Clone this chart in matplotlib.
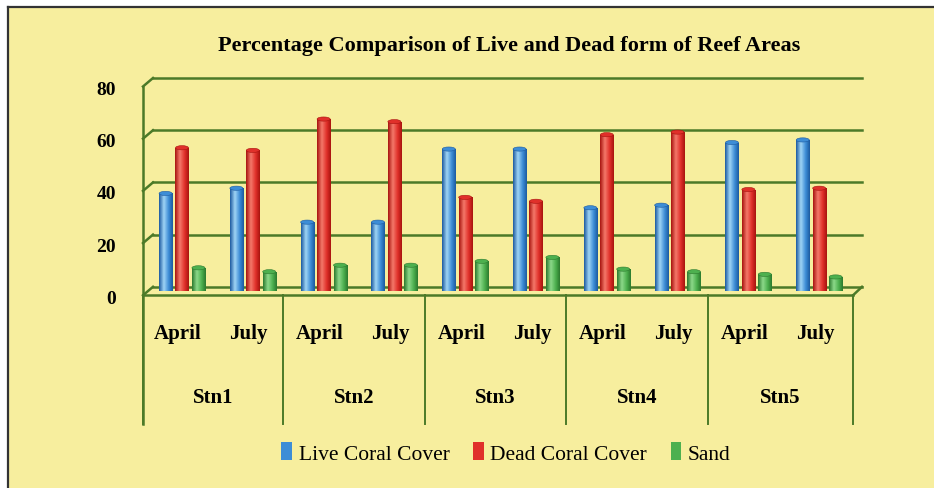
import numpy as np
import matplotlib
matplotlib.use("Agg")
import matplotlib.pyplot as plt
from matplotlib.colors import LinearSegmentedColormap
from matplotlib.patches import Ellipse, Patch, Rectangle

# data
stations = ["Stn1", "Stn2", "Stn3", "Stn4", "Stn5"]
months = ["April", "July"]
series = ["Live Coral Cover", "Dead Coral Cover", "Sand"]
live = [37.5, 39.5, 26.5, 26.5, 54.5, 54.5, 32, 33, 57, 58]
dead = [55, 54, 66, 65, 36, 34.5, 60, 61, 39, 39.5]
sand = [9, 7.5, 10, 10, 11.5, 13, 8.5, 7.5, 6.5, 5.5]
yticks = [0, 20, 40, 60, 80]

bg_col = "#F7EE9E"
grid_col = "#4C7A28"
# (dark, light, base) for the cylinder shading
shades = [("#1C5AA0", "#9FD4F5", "#3D8DD6"),
          ("#A8140F", "#F4786A", "#E0302A"),
          ("#2C7A2E", "#8CD98A", "#4DB04F")]
serif = "Liberation Serif"

W, H = 934, 489
fig = plt.figure(figsize=(W / 100, H / 100), dpi=100, facecolor="white")

bg = fig.add_axes([0, 0, 1, 1])
bg.set_xlim(0, W)
bg.set_ylim(H, 0)
bg.axis("off")
bg.add_patch(Rectangle((8, 8), W, H, facecolor=bg_col, edgecolor="none"))
bg.plot([8, W], [8, 8], color="#333333", lw=1.6)
bg.plot([8, 8], [8, H], color="#333333", lw=1.6)

# plotting plane of the bars
x0, x1, y0, y80 = 143, 862, 292.3, 83.5
ax = fig.add_axes([x0 / W, 1 - y0 / H, (x1 - x0) / W, (y0 - y80) / H])
ax.patch.set_alpha(0)
ax.axis("off")
xlim = (-0.551, 9.605)


def to_px(x, y):
    dx, dy = ax.transData.transform((x, y))
    return dx, H - dy


ax.set_xlim(*xlim)
ax.set_ylim(0, 80)

# walls, gridlines and floor (fake 3-D)
dxb, dyb, dyf = 10, 4.5, 4
for v in yticks:
    px, py = to_px(xlim[0], v)
    bg.plot([px + dxb, 862], [py - dyb, py - dyb], color=grid_col, lw=1.8)
    bg.plot([px, px + dxb], [py + dyf, py - dyb], color=grid_col, lw=1.8)
    bg.text(116, py + 7, str(v), ha="right", va="center", fontsize=14,
            fontweight="bold", family=serif)
_, ptop = to_px(xlim[0], 80)
_, pfl = to_px(xlim[0], 0)
bg.plot([143, 853], [pfl + dyf, pfl + dyf], color=grid_col, lw=1.8)
bg.plot([853, 862], [pfl + dyf, pfl - dyb], color=grid_col, lw=1.8)
bg.plot([143, 143], [ptop + dyf, 425], color=grid_col, lw=1.8)

# category table under the chart
bounds = [143] + [to_px(b, 0)[0] - 5 for b in (1.5, 3.5, 5.5, 7.5)] + [853]
for b in bounds:
    bg.plot([b, b], [pfl + dyf, 425], color=grid_col, lw=1.4)
for i in range(10):
    gx = to_px(i, 0)[0] - 4
    bg.text(gx, 334, months[i % 2], ha="center", va="center", fontsize=15,
            fontweight="bold", family=serif)
for k, st in enumerate(stations):
    bg.text((bounds[k] + bounds[k + 1]) / 2, 398, st, ha="center", va="center",
            fontsize=15, fontweight="bold", family=serif)

bg.text(509, 46, "Percentage Comparison of Live and Dead form of Reef Areas",
        ha="center", va="center", fontsize=16, fontweight="bold", family=serif)

# cylinder bars
width, step = 0.184, 0.232
grad = np.linspace(0, 1, 64)[None, :]
for s, vals in enumerate([live, dead, sand]):
    dark, light, base = shades[s]
    cm = LinearSegmentedColormap.from_list(
        "c%d" % s, [(0, dark), (0.35, light), (0.7, base), (1, dark)])
    for i, v in enumerate(vals):
        x = i + (s - 1) * step
        ax.add_patch(Ellipse((x, 0), width, 1.6, facecolor=base, zorder=2.9))
        bar = ax.bar(x, v, width, color=base, zorder=3)[0]
        im = ax.imshow(grad, extent=(x - width / 2, x + width / 2, 0, v),
                       cmap=cm, aspect="auto", zorder=3.1, interpolation="bilinear")
        im.set_clip_path(bar)
        ax.add_patch(Ellipse((x, v), width, 1.6, facecolor=base,
                             edgecolor=dark, lw=0.4, zorder=3.2))
ax.set_xlim(*xlim)
ax.set_ylim(0, 80)

handles = [Patch(facecolor=shades[s][2]) for s in range(3)]
fig.legend(handles, series, loc="center", bbox_to_anchor=(506 / W, 1 - 454 / H),
           ncol=3, frameon=False, prop={"family": serif, "size": 15.5},
           handlelength=0.5, handleheight=0.85, handletextpad=0.3,
           columnspacing=1.1)

fig.savefig("out.png", dpi=100, facecolor="white")
